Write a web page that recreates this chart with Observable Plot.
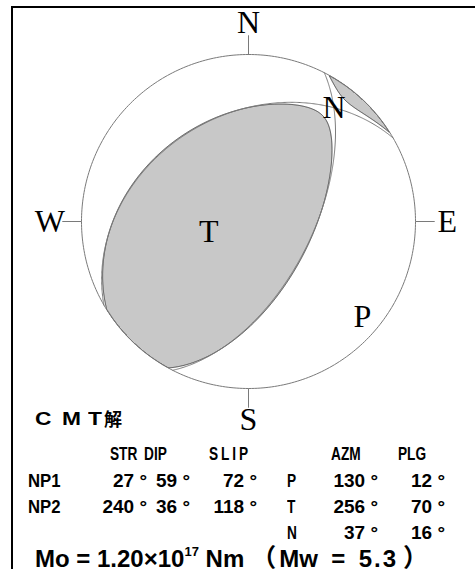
<!DOCTYPE html>
<html>
<head>
<meta charset="utf-8">
<script src="https://cdn.jsdelivr.net/npm/d3@7"></script>
<script src="https://cdn.jsdelivr.net/npm/@observablehq/plot@0.6"></script>
<style>
  body { margin: 0; background: #fff; }
  #page { position: relative; width: 475px; height: 569px; overflow: hidden; background: #fff; }
  #frame { position: absolute; left: 11px; top: 6px; width: 480px; height: 580px;
           border-top: 2px solid #000; border-left: 2px solid #000; box-sizing: border-box; }
  #chart { position: absolute; left: 0; top: 0; }
  #info { position: absolute; left: 0; top: 0; width: 475px; height: 569px; }
  .cell { position: absolute; white-space: pre; font-family: "Liberation Sans", "DejaVu Sans", sans-serif;
          font-weight: bold; font-size: 19px; line-height: 19px; color: #000; }
  .head { transform: scaleX(0.72); transform-origin: left center; }
  .name { transform: scaleX(0.88); transform-origin: left center; }
  .right { text-align: right; }
  .tchar { position: absolute; top: 409px; font-family: "Liberation Sans", sans-serif; font-weight: bold;
           font-size: 19px; line-height: 19px; white-space: pre; transform: scaleX(1.2); transform-origin: left center; }
  .tchar.cjk { font-family: "Noto Sans CJK JP", sans-serif; font-size: 18px; top: 409px; transform: none; }
  #moline { position: absolute; left: 35px; top: 546px; font-family: "Liberation Sans", sans-serif; font-weight: bold;
            font-size: 24px; line-height: 20px; white-space: pre; }
  #moline sup { font-size: 13px; vertical-align: 11px; line-height: 0; }
  #moline .fw { font-family: "Noto Sans CJK JP", sans-serif; font-weight: bold; font-size: 25px; }
  #moline .open { margin-left: 7px; margin-right: 3px; }
  #moline .close { margin-left: 5px; }
  #moline .num { letter-spacing: 2px; }
</style>
</head>
<body>
<div id="page">
  <div id="frame"></div>
  <div id="chart"></div>
  <div id="info"></div>
</div>
<script>
// ---------------- data ----------------
const npNames  = ["NP1", "NP2"];
const npStrike = [27, 240];
const npDip    = [59, 36];
const npSlip   = [72, 118];

const axisNames = ["P", "T", "N"];
const axisAzm   = [130, 256, 37];
const axisPlg   = [12, 70, 16];
// relative eigenvalues of the moment tensor (estimated from the shape of the shaded area)
const axisEigen = [-0.98, 1.0, -0.02];

const compassLabels = ["N", "E", "S", "W"];
const compassAzm    = [0, 90, 180, 270];

const headers   = ["STR", "DIP", "SLIP", "AZM", "PLG"];
const titleText = "CMT解";
const moMantissa = "1.20";
const moExponent = "17";
const mwValue    = "5.3";

// ---------------- geometry helpers ----------------
const rad = Math.PI / 180;
const vec = (az, pl) => [Math.cos(pl * rad) * Math.cos(az * rad), Math.cos(pl * rad) * Math.sin(az * rad), Math.sin(pl * rad)];
const dot = (a, b) => a[0] * b[0] + a[1] * b[1] + a[2] * b[2];
// lower-hemisphere equal-area (Schmidt) projection; returns [east, north]
function project(v) {
  let [n, e, d] = v;
  if (d < 0) { n = -n; e = -e; d = -d; }
  const th = Math.acos(Math.min(1, d));
  const r = Math.SQRT2 * Math.sin(th / 2);
  const h = Math.hypot(n, e);
  return h === 0 ? [0, 0] : [r * e / h, r * n / h];
}

// nodal planes
const planePts = [];
npStrike.forEach((s, i) => {
  const d = npDip[i];
  const sv = [Math.cos(s * rad), Math.sin(s * rad), 0];
  const dv = [Math.cos(d * rad) * Math.cos((s + 90) * rad), Math.cos(d * rad) * Math.sin((s + 90) * rad), Math.sin(d * rad)];
  for (let t = 0; t <= 180; t += 0.5) {
    const c = Math.cos(t * rad), sn = Math.sin(t * rad);
    const [x, y] = project([c * sv[0] + sn * dv[0], c * sv[1] + sn * dv[1], c * sv[2] + sn * dv[2]]);
    planePts.push({plane: npNames[i], x, y});
  }
});

// outer circle
const circlePts = d3.range(0, 361, 1).map(a => ({x: Math.sin(a * rad), y: Math.cos(a * rad)}));

// compass ticks / labels
const compass = compassLabels.map((label, i) => ({label, sx: Math.sin(compassAzm[i] * rad), sy: Math.cos(compassAzm[i] * rad)}));

// principal axes labels
const axes = axisNames.map((name, i) => {
  const [x, y] = project(vec(axisAzm[i], axisPlg[i]));
  return {name, x, y};
});

// radiation pattern (compression > 0)
const axisVecs = axisAzm.map((a, i) => vec(a, axisPlg[i]));
function amplitude(x, y) {
  const r = Math.hypot(x, y);
  if (r > 1) return -1;
  const th = 2 * Math.asin(r / Math.SQRT2);
  const s = Math.sin(th);
  const u = r === 0 ? [0, 0, 1] : [s * y / r, s * x / r, Math.cos(th)];
  return axisVecs.reduce((acc, v, i) => acc + axisEigen[i] * dot(u, v) ** 2, 0);
}

const serif = "'Liberation Serif', 'DejaVu Serif', serif";
const lineGray = "#7a7a7a";

const chart = Plot.plot({
  width: 475,
  height: 440,
  marginLeft: 81, marginRight: 60, marginTop: 54, marginBottom: 52,
  x: {domain: [-1, 1], axis: null},
  y: {domain: [-1, 1], axis: null},
  style: {background: "transparent", overflow: "visible"},
  marks: [
    Plot.contour({x1: -1, y1: -1, x2: 1, y2: 1, value: amplitude, thresholds: [0], pixelSize: 0.5,
                  fill: "#c8c8c8", stroke: "#222", strokeWidth: 0.8}),
    Plot.line(planePts, {x: "x", y: "y", z: "plane", stroke: lineGray, strokeWidth: 1}),
    Plot.line(circlePts, {x: "x", y: "y", stroke: lineGray, strokeWidth: 1}),
    Plot.link(compass, {x1: d => d.sx, y1: d => d.sy, x2: d => d.sx * 1.115, y2: d => d.sy * 1.115, stroke: lineGray, strokeWidth: 1}),
    Plot.text(compass, {x: d => d.sx * 1.19, y: d => d.sy * 1.19, text: "label", fontFamily: serif, fontSize: 32, fill: "#000", lineAnchor: "middle"}),
    Plot.text(axes, {x: "x", y: "y", text: "name", fontFamily: serif, fontSize: 32, fill: "#000", lineAnchor: "middle"})
  ]
});
document.getElementById("chart").append(chart);

// ---------------- text block ----------------
const info = document.getElementById("info");
const layout = {
  titleLeft: [35, 62, 88, 104],
  nameLeft: 28, axisLeft: 287,
  headerLeft: [110, 144, 209, 331, 398],
  headerSpacing: [0, 0, 4, 0, 0],
  valueRight: [147, 190, 257, 378, 445],
  headerTop: 444, rowTop: [471, 497, 523]
};
function cell(text, opts) {
  const el = document.createElement("div");
  el.className = "cell" + (opts.cls ? " " + opts.cls : "");
  el.textContent = text;
  el.style.top = opts.top + "px";
  if (opts.left != null) el.style.left = opts.left + "px";
  if (opts.spacing) el.style.letterSpacing = opts.spacing + "px";
  if (opts.right != null) { el.classList.add("right"); el.style.right = (475 - opts.right) + "px"; }
  info.append(el);
}
Array.from(titleText).forEach((ch, i) => {
  const el = document.createElement("div");
  el.className = "tchar" + (/[\u3000-\u9fff]/.test(ch) ? " cjk" : "");
  el.textContent = ch;
  el.style.left = layout.titleLeft[i] + "px";
  info.append(el);
});

headers.forEach((h, i) => cell(h, {top: layout.headerTop, left: layout.headerLeft[i], cls: "head", spacing: layout.headerSpacing[i]}));
npNames.forEach((n, r) => {
  cell(n, {top: layout.rowTop[r], left: layout.nameLeft, cls: "name"});
  [npStrike[r], npDip[r], npSlip[r]].forEach((v, c) => cell(v + " °", {top: layout.rowTop[r], right: layout.valueRight[c]}));
});
axisNames.forEach((n, r) => {
  cell(n, {top: layout.rowTop[r], left: layout.axisLeft, cls: "head"});
  cell(axisAzm[r] + " °", {top: layout.rowTop[r], right: layout.valueRight[3]});
  cell(axisPlg[r] + " °", {top: layout.rowTop[r], right: layout.valueRight[4]});
});
const mo = document.createElement("div");
mo.id = "moline";
mo.innerHTML = `Mo = ${moMantissa}×10<sup>${moExponent}</sup> Nm<span class="fw open">（</span>Mw  =  <span class="num">${mwValue}</span><span class="fw close">）</span>`;
info.append(mo);
</script>
</body>
</html>
